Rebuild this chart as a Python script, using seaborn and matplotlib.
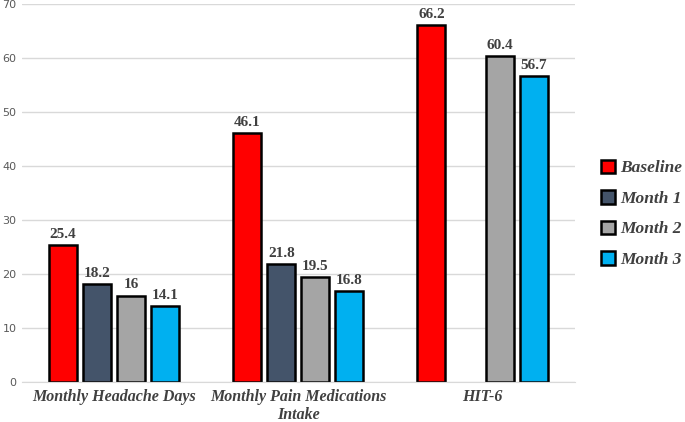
import matplotlib.pyplot as plt
import seaborn as sns
import numpy as np
import pandas as pd

# === Data ===
categories = ["Monthly Headache Days", "Monthly Pain Medications\nIntake", "HIT-6"]
series = ["Baseline", "Month 1", "Month 2", "Month 3"]
baseline = [25.4, 46.1, 66.2]
month1 = [18.2, 21.8, np.nan]
month2 = [16, 19.5, 60.4]
month3 = [14.1, 16.8, 56.7]

colors = ["#FF0000", "#44546A", "#A5A5A5", "#00B0F0"]

df = pd.DataFrame({
    "category": categories * 4,
    "series": np.repeat(series, 3),
    "value": baseline + month1 + month2 + month3,
})

sns.set_style("white")
fig = plt.figure(figsize=(6.85, 4.22), dpi=100)
ax = fig.add_axes([0.032, 0.095, 0.807, 0.895])

sns.barplot(
    data=df, x="category", y="value", hue="series",
    order=categories, hue_order=series, palette=colors,
    width=0.74, gap=0.18, edgecolor="black", linewidth=1.8,
    saturation=1, ax=ax,
)

serif = "Liberation Serif"
for cont in ax.containers:
    ax.bar_label(cont, fmt=lambda v: f"{v:g}", padding=3,
                 fontsize=11, fontweight="bold", family=serif, color="#404040")

ax.set_ylim(0, 70)
ax.set_yticks(range(0, 71, 10))
ax.yaxis.grid(True, color="#D9D9D9", linewidth=1)
ax.set_axisbelow(True)
ax.set_xlabel("")
ax.set_ylabel("")
for s in ["top", "right", "left"]:
    ax.spines[s].set_visible(False)
ax.spines["bottom"].set_color("#D9D9D9")
ax.tick_params(axis="y", labelsize=8, labelcolor="#595959", length=0, pad=4)
ax.tick_params(axis="x", length=0, pad=5)
for lab in ax.get_xticklabels():
    lab.set_family(serif)
    lab.set_fontweight("bold")
    lab.set_fontstyle("italic")
    lab.set_fontsize(11.5)
    lab.set_color("#404040")
    lab.set_linespacing(1.15)

leg = ax.legend(loc="center left", bbox_to_anchor=(1.02, 0.445), frameon=False,
                handlelength=0.8, handleheight=0.8, handletextpad=0.3,
                labelspacing=0.8,
                prop={"family": serif, "weight": "bold", "style": "italic", "size": 12.5})
for t in leg.get_texts():
    t.set_color("#404040")

fig.savefig("out.png", dpi=100)
